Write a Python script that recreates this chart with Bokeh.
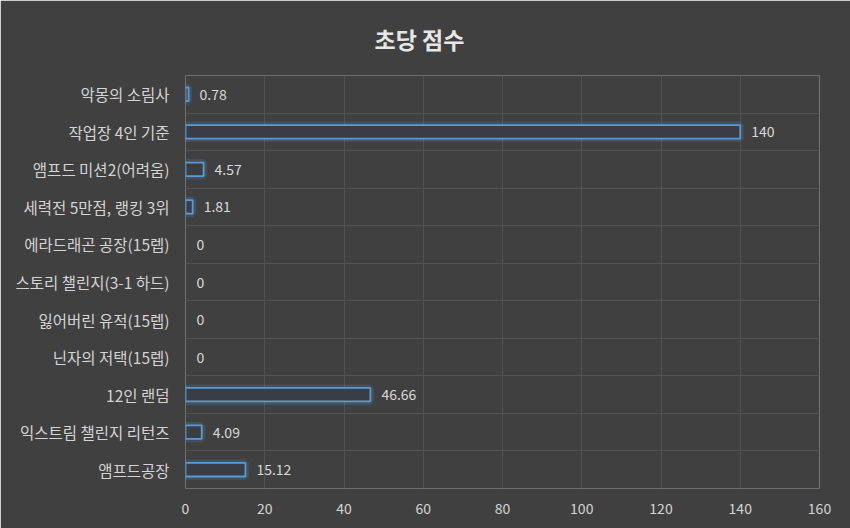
from bokeh.plotting import figure
from bokeh.models import FactorRange, Range1d, FixedTicker, ColumnDataSource, LabelSet, CDSView, BooleanFilter
from bokeh.core.properties import value
from bokeh.embed import file_html
from bokeh.resources import INLINE

categories = ["악몽의 소림사", "작업장 4인 기준", "앰프드 미션2(어려움)", "세력전 5만점, 랭킹 3위",
              "에라드래곤 공장(15렙)", "스토리 챌린지(3-1 하드)", "잃어버린 유적(15렙)", "닌자의 저택(15렙)",
              "12인 랜덤", "익스트림 챌린지 리턴즈", "앰프드공장"]
values = [0.78, 140, 4.57, 1.81, 0, 0, 0, 0, 46.66, 4.09, 15.12]
labels = ["0.78", "140", "4.57", "1.81", "0", "0", "0", "0", "46.66", "4.09", "15.12"]
x_ticks = [0, 20, 40, 60, 80, 100, 120, 140, 160]
title_text = "초당 점수"

BG = "#404040"
FONT = "Noto Sans CJK KR"

src = ColumnDataSource(dict(cat=categories, val=values, lab=labels))
nonzero = CDSView(filter=BooleanFilter([v > 0 for v in values]))

p = figure(width=850, height=528, output_backend="svg", toolbar_location=None,
           y_range=FactorRange(*categories[::-1]), x_range=Range1d(0, 160),
           min_border_left=185, min_border_right=31, min_border_top=75, min_border_bottom=40)
p.background_fill_color = BG
p.border_fill_color = BG
p.outline_line_color = None

p.title.text = title_text
p.title.align = "left"
p.title.vertical_align = "top"
p.title.text_font = FONT
p.title.text_font_size = "23px"
p.title.text_font_style = "bold"
p.title.text_color = "#e6e6e6"
p.title.offset = 189
p.title.standoff = 36

# glow + bars
p.hbar(y="cat", right="val", left=0, height=0.36, source=src, view=nonzero, fill_alpha=0,
       line_color="#5b9bd5", line_width=7, line_alpha=0.18)
p.hbar(y="cat", right="val", left=0, height=0.36, source=src, view=nonzero, fill_color="#3a3e44",
       line_color="#5b9bd5", line_width=1.8)

lbl = LabelSet(x="val", y="cat", text="lab", source=src, x_offset=11, y_offset=0,
               text_baseline="middle", text_font=value(FONT), text_font_size=value("14px"),
               text_color="#d9d9d9")
p.add_layout(lbl)

p.xaxis.ticker = FixedTicker(ticks=x_ticks)
p.xgrid.ticker = FixedTicker(ticks=x_ticks[1:])
p.ygrid.ticker = FixedTicker(ticks=list(range(len(categories) + 1)))
for g in (p.xgrid, p.ygrid):
    g.grid_line_color = "#525252"
    g.grid_line_width = 1

for ax in (p.xaxis, p.yaxis):
    ax.axis_line_color = None
    ax.major_tick_line_color = None
    ax.minor_tick_line_color = None
    ax.major_label_text_font = FONT
    ax.major_label_text_color = "#d4d4d4"
p.xaxis.major_label_text_font_size = "14px"
p.xaxis.major_label_standoff = 8
p.yaxis.major_label_text_font_size = "15.5px"
p.yaxis.major_label_standoff = 10

open("out.html", "w").write(file_html(p, INLINE))
